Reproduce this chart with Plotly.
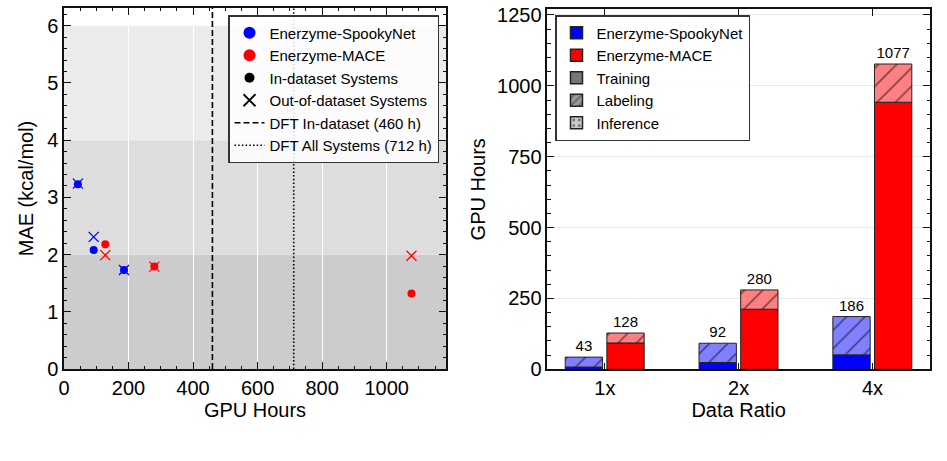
import plotly.graph_objects as go

# ---------------- data ----------------
# Left panel: MAE vs GPU hours
spooky_hours = [43, 92, 186]
spooky_mae_in = [3.23, 2.08, 1.73]
spooky_mae_out = [3.24, 2.31, 1.73]
mace_hours = [128, 280, 1077]
mace_mae_in = [2.18, 1.79, 1.32]
mace_mae_out = [1.99, 1.79, 1.98]
dft_in_hours = 460
dft_all_hours = 712
bands = [(0, 2, "#cccccc"), (2, 4, "#dddddd"), (4, 6, "#ececec")]

# Right panel: GPU hours breakdown
ratios = ["1x", "2x", "4x"]
spooky_train = [8, 24, 51]
spooky_label = [35, 68, 135]
mace_train = [93, 212, 942]
mace_label = [35, 68, 135]
spooky_total = [a + b for a, b in zip(spooky_train, spooky_label)]
mace_total = [a + b for a, b in zip(mace_train, mace_label)]

FONT = "Liberation Sans, Arial, Helvetica, sans-serif"
W, H = 947, 461
BLUE, RED = "#0000ff", "#ff0000"
LBLUE, LRED = "#8080ff", "#ff8080"

fig = go.Figure()

# ---------- left panel ----------
fig.add_trace(go.Scatter(x=spooky_hours, y=spooky_mae_in, mode="markers", showlegend=False,
                         marker=dict(color=BLUE, size=8, symbol="circle"), xaxis="x", yaxis="y"))
fig.add_trace(go.Scatter(x=mace_hours, y=mace_mae_in, mode="markers", showlegend=False,
                         marker=dict(color=RED, size=8, symbol="circle"), xaxis="x", yaxis="y"))
fig.add_trace(go.Scatter(x=spooky_hours, y=spooky_mae_out, mode="markers", showlegend=False,
                         marker=dict(color=BLUE, size=10, symbol="x-thin-open", line=dict(color=BLUE, width=1.3)),
                         xaxis="x", yaxis="y"))
fig.add_trace(go.Scatter(x=mace_hours, y=mace_mae_out, mode="markers", showlegend=False,
                         marker=dict(color=RED, size=10, symbol="x-thin-open", line=dict(color=RED, width=1.3)),
                         xaxis="x", yaxis="y"))
# legend-only entries
for nm, col in [("Enerzyme-SpookyNet", BLUE), ("Enerzyme-MACE", RED), ("In-dataset Systems", "black")]:
    fig.add_trace(go.Scatter(x=[None], y=[None], mode="markers", name=nm,
                             marker=dict(color=col, size=12 if col != "black" else 10, symbol="circle"),
                             legend="legend", xaxis="x", yaxis="y"))
fig.add_trace(go.Scatter(x=[None], y=[None], mode="markers", name="Out-of-dataset Systems",
                         marker=dict(color="black", size=12, symbol="x-thin-open", line=dict(color="black", width=1.8)),
                         legend="legend", xaxis="x", yaxis="y"))
YMAX_L = 6.31
fig.add_trace(go.Scatter(x=[dft_in_hours, dft_in_hours], y=[0, YMAX_L], mode="lines", name="DFT In-dataset (460 h)",
                         line=dict(color="black", width=1.6, dash="6px,3px"), legend="legend", xaxis="x", yaxis="y"))
fig.add_trace(go.Scatter(x=[dft_all_hours, dft_all_hours], y=[0, YMAX_L], mode="lines", name="DFT All Systems (712 h)",
                         line=dict(color="black", width=1.6, dash="1.5px,2.2px"), legend="legend", xaxis="x", yaxis="y"))

shapes = []
for y0, y1, c in bands:
    shapes.append(dict(type="rect", xref="x domain", yref="y", x0=0, x1=1, y0=y0, y1=y1,
                       fillcolor=c, line=dict(width=0), layer="below"))

# ---------- right panel ----------
BW = 0.279
OFF_B, OFF_R = -0.296, 0.015
fig.add_trace(go.Bar(x=ratios, y=spooky_train, offset=OFF_B, width=BW, showlegend=False,
                     marker=dict(color=BLUE, line=dict(color="#222222", width=1)), xaxis="x2", yaxis="y2"))
fig.add_trace(go.Bar(x=ratios, y=spooky_label, base=spooky_train, offset=OFF_B, width=BW, showlegend=False,
                     text=spooky_total, textposition="outside", cliponaxis=False,
                     textfont=dict(size=15, color="black", family=FONT),
                     marker=dict(color=LBLUE, line=dict(color="#222222", width=1),
                                 pattern=dict(shape="/", fgcolor="black", size=13, solidity=0.12, fillmode="overlay")),
                     xaxis="x2", yaxis="y2"))
fig.add_trace(go.Bar(x=ratios, y=mace_train, offset=OFF_R, width=BW, showlegend=False,
                     marker=dict(color=RED, line=dict(color="#222222", width=1)), xaxis="x2", yaxis="y2"))
fig.add_trace(go.Bar(x=ratios, y=mace_label, base=mace_train, offset=OFF_R, width=BW, showlegend=False,
                     text=mace_total, textposition="outside", cliponaxis=False,
                     textfont=dict(size=15, color="black", family=FONT),
                     marker=dict(color=LRED, line=dict(color="#222222", width=1),
                                 pattern=dict(shape="/", fgcolor="black", size=13, solidity=0.12, fillmode="overlay")),
                     xaxis="x2", yaxis="y2"))
# legend-only bar entries
leg_items = [
    ("Enerzyme-SpookyNet", BLUE, ""),
    ("Enerzyme-MACE", RED, ""),
    ("Training", "#777777", ""),
    ("Labeling", "#999999", "/"),
    ("Inference", "#cccccc", "."),
]
for nm, col, shp in leg_items:
    mk = dict(color=col, line=dict(color="#222222", width=1.5))
    if shp:
        mk["pattern"] = dict(shape=shp, fgcolor="black", size=7, solidity=0.2, fillmode="overlay")
    fig.add_trace(go.Bar(x=[None], y=[None], name=nm, marker=mk, legend="legend2", xaxis="x2", yaxis="y2"))

# ---------- layout ----------
def px_x(p):
    return p / W

def px_y(p):
    return 1 - p / H

tickfont = dict(family=FONT, size=20, color="black")
titlefont = dict(family=FONT, size=20, color="black")
common = dict(showline=True, linecolor="#111111", linewidth=1.5, mirror="allticks", ticks="inside",
              ticklen=7, tickwidth=1.3, tickcolor="#111111", tickfont=tickfont, zeroline=False,
              automargin=False)

fig.update_layout(
    width=W, height=H, margin=dict(l=0, r=0, t=0, b=0, autoexpand=False),
    paper_bgcolor="white", plot_bgcolor="white",
    font=dict(family=FONT, color="black"),
    barmode="overlay",
    shapes=shapes,
    xaxis=dict(domain=[px_x(64), px_x(446)], range=[0, 1184], tickvals=[0, 200, 400, 600, 800, 1000],
               showgrid=True, gridcolor="white", gridwidth=1,
               minor=dict(ticks="inside", ticklen=3.5, tickwidth=1.1, tickcolor="#111111", dtick=50, tick0=0, showgrid=False),
               title=dict(text="GPU Hours", font=titlefont, standoff=5), anchor="y", **common),
    yaxis=dict(domain=[px_y(369), px_y(8)], range=[0, YMAX_L], tickvals=[0, 1, 2, 3, 4, 5, 6], showgrid=False,
               minor=dict(ticks="inside", ticklen=3.5, tickwidth=1.1, tickcolor="#111111", dtick=0.2, tick0=0),
               title=dict(text="MAE (kcal/mol)", font=titlefont, standoff=8), anchor="x", **common),
    xaxis2=dict(domain=[px_x(547.3), px_x(930)], range=[-0.43, 2.43], type="category", showgrid=False,
                title=dict(text="Data Ratio", font=titlefont, standoff=5), anchor="y2", **common),
    yaxis2=dict(domain=[px_y(369.3), px_y(9.3)], range=[0, 1270], tickvals=[0, 250, 500, 750, 1000, 1250],
                showgrid=True, gridcolor="#e8e8e8", gridwidth=1,
                minor=dict(ticks="inside", ticklen=3.5, tickwidth=1.1, tickcolor="#111111", dtick=50, tick0=0, showgrid=False),
                title=dict(text="GPU Hours", font=titlefont, standoff=6), anchor="x2", **common),
    legend=dict(x=px_x(439), y=px_y(15), xanchor="right", yanchor="top",
                bgcolor="rgba(255,255,255,0.85)", bordercolor="#333333", borderwidth=1.5,
                font=dict(family=FONT, size=15, color="black"), tracegroupgap=0),
    legend2=dict(x=px_x(555), y=px_y(15), xanchor="left", yanchor="top",
                 bgcolor="rgba(255,255,255,0.9)", bordercolor="#333333", borderwidth=1.5,
                 font=dict(family=FONT, size=15, color="black"), tracegroupgap=0),
    showlegend=True,
)

fig.write_html("out.html")
